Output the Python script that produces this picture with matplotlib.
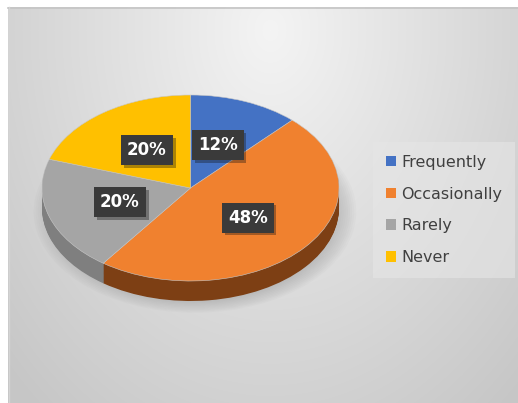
import numpy as np
import matplotlib.pyplot as plt
import matplotlib.patches as patches
import matplotlib.patheffects as pe

labels = ['Frequently', 'Occasionally', 'Rarely', 'Never']
values = [12, 48, 20, 20]
top_colors = ['#4472C4', '#F0812F', '#A5A5A5', '#FFC000']
side_colors = ['#2f528f', '#7d3f14', '#7f7f7f', '#b38600']

W, H = 518, 403
fig = plt.figure(figsize=(W / 100, H / 100), dpi=100)
fig.patch.set_facecolor('white')

# background panel with soft radial gradient
bg = fig.add_axes([0, 0, 1, 1])
bg.set_xlim(0, W)
bg.set_ylim(H, 0)
bg.axis('off')
yy, xx = np.mgrid[7:H:1.0, 8:W:1.0]
d = np.sqrt(((xx - 270) / 320.0) ** 2 + ((yy - 30) / 430.0) ** 2)
val = np.clip(244 - 40 * d, 198, 244) / 255.0
bg.imshow(np.dstack([val, val, val]), extent=[8, W, H, 7], aspect='auto',
          interpolation='bilinear', zorder=0)
bg.plot([8, W], [7.5, 7.5], color='#c4c4c4', lw=1.2, zorder=1)
bg.plot([8.5, 8.5], [7, H], color='#d4d4d4', lw=1.0, zorder=1)

# pie geometry in pixels
cx, cy, rx, ry, thick = 190.5, 188.0, 148.5, 93.0, 20.0
t = thick / ry
ax = fig.add_axes([(cx - rx) / W, (H - (cy + ry + thick)) / H,
                   2 * rx / W, (2 * ry + thick) / H])
ax.patch.set_alpha(0)

# drop shadow below the pie
for k in range(10):
    s = 0.96 + 0.014 * k
    e = patches.Ellipse((0.03, -t - 0.04), 2 * s, 2 * s,
                        facecolor='#7a7a7a', edgecolor='none', alpha=0.035,
                        clip_on=False, zorder=0)
    ax.add_patch(e)

# extruded side
n = 24
for i in range(n, 0, -1):
    off = t * i / n
    ax.pie(values, colors=side_colors, startangle=90, counterclock=False,
           center=(0, -off), radius=1, frame=True,
           wedgeprops=dict(linewidth=0, antialiased=True))

wedges, _, autotexts = ax.pie(
    values, colors=top_colors, startangle=90, counterclock=False,
    center=(0, 0), radius=1, frame=True, autopct='%d%%', pctdistance=0.5,
    wedgeprops=dict(linewidth=0.4, edgecolor='#c8c8c8'),
    textprops=dict(color='white', fontsize=12, fontweight='bold'))

for tx in autotexts:
    tx.set_bbox(dict(boxstyle='square,pad=0.36', facecolor='#3a3a3a',
                     edgecolor='none'))
    tx.get_bbox_patch().set_path_effects(
        [pe.SimplePatchShadow(offset=(2, -2), alpha=0.35), pe.Normal()])

ax.set_aspect('auto')
ax.set_xlim(-1, 1)
ax.set_ylim(-1 - t, 1)
ax.set_xticks([])
ax.set_yticks([])
for sp in ax.spines.values():
    sp.set_visible(False)

leg = fig.legend(wedges, labels, loc='upper left',
                 bbox_to_anchor=(373 / W, 1 - 142 / H),
                 fontsize=11.5, frameon=True, fancybox=False,
                 handlelength=0.65, handleheight=0.65, handletextpad=0.3,
                 labelspacing=1.05, borderpad=0.8, borderaxespad=0)
leg.get_frame().set_facecolor('#e6e6e6')
leg.get_frame().set_edgecolor('none')
leg.get_frame().set_alpha(0.6)
for tx in leg.get_texts():
    tx.set_color('#404040')
for h in leg.legend_handles:
    h.set_edgecolor('none')

fig.savefig('out.png', dpi=100)
